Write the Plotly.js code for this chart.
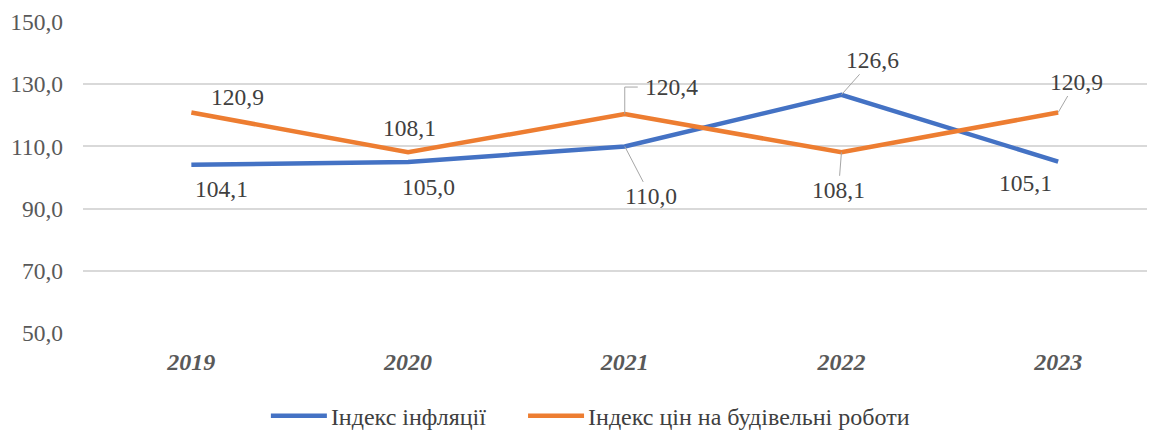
<!DOCTYPE html>
<html><head><meta charset="utf-8">
<script src="https://cdn.plot.ly/plotly-3.0.1.min.js"></script>
<style>body{margin:0;background:#fff}</style>
</head><body>
<div id="chart" style="width:1151px;height:430px"></div>
<script>
const years = ['2019', '2020', '2021', '2022', '2023'];
const inflation = [104.1, 105.0, 110.0, 126.6, 105.1];
const construction = [120.9, 108.1, 120.4, 108.1, 120.9];
const seriesNames = ['Індекс інфляції', 'Індекс цін на будівельні роботи'];
const yTicks = [50, 70, 90, 110, 130, 150];

const fmt = v => v.toFixed(1).replace('.', ',');
const FONT = 'Liberation Serif';
const labelFont = {family: FONT, size: 23.5, color: '#404040'};

// label placement relative to the point: [shiftX, shiftY, leader line?]
const infPos = [[30, -24, false], [20, -25, false], [26, 50, true], [31, -35, true], [-33, -21, false]];
const conPos = [[46, 16, false], [1, 24, false], [47, 27, false], [-3, 38, true], [18, -31, true]];

const annotations = [];
function addLabels(vals, pos) {
  vals.forEach((v, i) => {
    const [dx, dy, leader] = pos[i];
    if (leader) {
      annotations.push({x: i, y: v, xref: 'x', yref: 'y', text: fmt(v), font: labelFont,
        showarrow: true, arrowhead: 0, arrowwidth: 1, arrowcolor: '#A6A6A6', standoff: 0,
        ax: dx, ay: dy});
    } else {
      annotations.push({x: i, y: v, xref: 'x', yref: 'y', text: fmt(v), font: labelFont,
        showarrow: false, xshift: dx, yshift: dy});
    }
  });
}
addLabels(inflation, infPos);
addLabels(construction, conPos);

const data = [
  {x: years, y: inflation, name: seriesNames[0], type: 'scatter', mode: 'lines',
   line: {color: '#4472C4', width: 4.5}, legend: 'legend'},
  {x: years, y: construction, name: seriesNames[1], type: 'scatter', mode: 'lines',
   line: {color: '#ED7D31', width: 4.5}, legend: 'legend2'}
];

const legendBase = {orientation: 'h', xanchor: 'left', yref: 'container', y: 0.032, yanchor: 'middle',
  font: {family: FONT, size: 24, color: '#404040'}, itemwidth: 52, bgcolor: 'rgba(0,0,0,0)'};

const layout = {
  width: 1151, height: 430,
  margin: {l: 83, r: 4, t: 22, b: 97},
  paper_bgcolor: '#fff', plot_bgcolor: '#fff',
  font: {family: FONT, color: '#595959', size: 23.5},
  showlegend: true,
  legend: Object.assign({}, legendBase, {x: 0.1747}),
  legend2: Object.assign({}, legendBase, {x: 0.4164}),
  xaxis: {type: 'category', range: [-0.5, 4.41], showgrid: false, zeroline: false, showline: false,
    ticks: '', ticklabelstandoff: 12,
    tickfont: {family: FONT, size: 24, color: '#595959', weight: 'bold', style: 'italic'},
    fixedrange: true},
  yaxis: {range: [50, 150], tickvals: yTicks, ticktext: yTicks.map(fmt),
    showgrid: true, gridcolor: '#D9D9D9', gridwidth: 1.5, zeroline: false, showline: false,
    ticks: '', ticklabelstandoff: 19, tickfont: {family: FONT, size: 23.5, color: '#595959'},
    fixedrange: true},
  annotations: annotations
};

Plotly.newPlot('chart', data, layout, {displayModeBar: false}).then(() => {
  const shape = {
    type: 'path', xref: 'x', yref: 'y', xsizemode: 'pixel', ysizemode: 'pixel',
    xanchor: 2, yanchor: construction[2],
    path: 'M0,0 L0,27 L13,27', line: {color: '#A6A6A6', width: 1}
  };
  return Plotly.relayout('chart', {shapes: [shape]});
}).then(() => {
  document.querySelectorAll('#chart .legendlines path').forEach(p => p.setAttribute('d', 'M2,0h56'));
});
</script>
</body></html>
